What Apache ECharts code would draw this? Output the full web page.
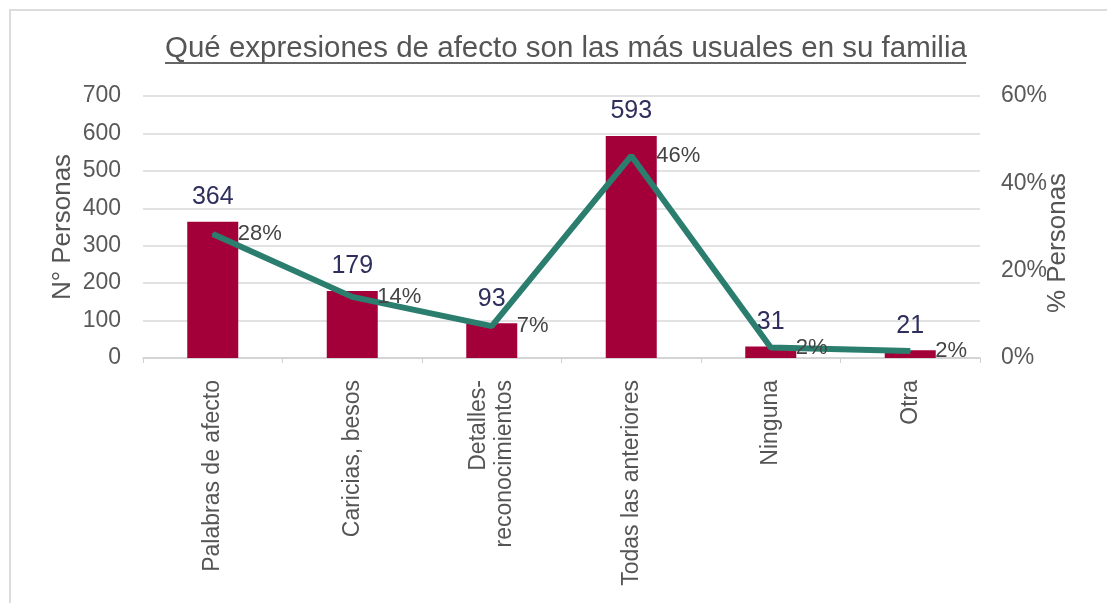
<!DOCTYPE html>
<html>
<head>
<meta charset="utf-8">
<script src="https://cdn.jsdelivr.net/npm/echarts@6/dist/echarts.min.js"></script>
<style>
  html, body { margin: 0; padding: 0; background: #fff; }
  #frame {
    position: absolute; left: 9px; top: 9px; width: 1098px; height: 594px;
    border-left: 2px solid #dcdcdc; border-top: 2px solid #dcdcdc;
  }
  #chart { position: absolute; left: 0; top: 0; width: 1107px; height: 603px; }
</style>
</head>
<body>
<div id="frame"></div>
<div id="chart"></div>
<script>
// datos
const categories = ['Palabras de afecto', 'Caricias, besos', 'Detalles-\nreconocimientos', 'Todas las anteriores', 'Ninguna', 'Otra']
const personas = [364, 179, 93, 593, 31, 21]
const porcentaje = [28.4, 14.0, 7.3, 46.3, 2.4, 1.6]
const leftTicks = [0, 700, 100]
const rightTicks = [0, 60, 20]

const chart = echarts.init(document.getElementById('chart'))

const option = {
  animation: false,
  textStyle: { fontFamily: 'Liberation Sans, Arial, sans-serif' },
  title: {
    text: 'Qué expresiones de afecto son las más usuales en su familia',
    left: 160,
    top: 29,
    textStyle: { fontSize: 29.5, fontWeight: 'normal', color: '#555555', fontFamily: 'Liberation Sans, Arial, sans-serif' }
  },
  graphic: [
    {
      type: 'line',
      shape: { x1: 165, y1: 63, x2: 966, y2: 63 },
      style: { stroke: '#666666', lineWidth: 2 }
    }
  ],
  grid: { left: 143, right: 127, top: 96, bottom: 245 },
  xAxis: {
    type: 'category',
    data: categories,
    axisLine: { lineStyle: { color: '#d0d0d0', width: 1.5 } },
    axisTick: { show: true, length: 5, lineStyle: { color: '#d0d0d0' } },
    axisLabel: {
      rotate: 90,
      color: '#555555',
      fontSize: 23,
      margin: 22,
      lineHeight: 26,
      interval: 0
    }
  },
  yAxis: [
    {
      type: 'value',
      min: leftTicks[0],
      max: leftTicks[1],
      interval: leftTicks[2],
      name: 'N° Personas',
      nameLocation: 'middle',
      nameRotate: 90,
      nameGap: 67,
      nameMoveOverlap: false,
      nameTextStyle: { fontSize: 26, color: '#555555' },
      axisLabel: { fontSize: 23, color: '#595959', margin: 22 },
      axisLine: { show: false },
      axisTick: { show: false },
      splitLine: { lineStyle: { color: '#d9d9d9', width: 1.5 } }
    },
    {
      type: 'value',
      min: rightTicks[0],
      max: rightTicks[1],
      interval: rightTicks[2],
      name: '% Personas',
      nameLocation: 'middle',
      nameRotate: 90,
      nameGap: 65,
      nameMoveOverlap: false,
      nameTextStyle: { fontSize: 26, color: '#555555', padding: [0, 32, 0, 0] },
      axisLabel: { fontSize: 23, color: '#595959', margin: 21, formatter: '{value}%' },
      axisLine: { show: false },
      axisTick: { show: false },
      splitLine: { show: false }
    }
  ],
  series: [
    {
      name: 'N° Personas',
      type: 'bar',
      data: personas,
      barWidth: 51,
      itemStyle: { color: '#A3003A' },
      label: {
        show: true,
        position: 'top',
        distance: 12,
        fontSize: 25,
        color: '#2E2F5C'
      },
      z: 2
    },
    {
      name: '% Personas',
      type: 'line',
      yAxisIndex: 1,
      data: porcentaje,
      symbol: 'circle',
      symbolSize: 2,
      showSymbol: true,
      itemStyle: { color: '#2B7E6E' },
      lineStyle: { color: '#2B7E6E', width: 6 },
      label: {
        show: true,
        position: 'right',
        distance: 24,
        fontSize: 22,
        color: '#444444',
        formatter: p => Math.round(p.value) + '%'
      },
      z: 3
    }
  ]
}

chart.setOption(option)
</script>
</body>
</html>
